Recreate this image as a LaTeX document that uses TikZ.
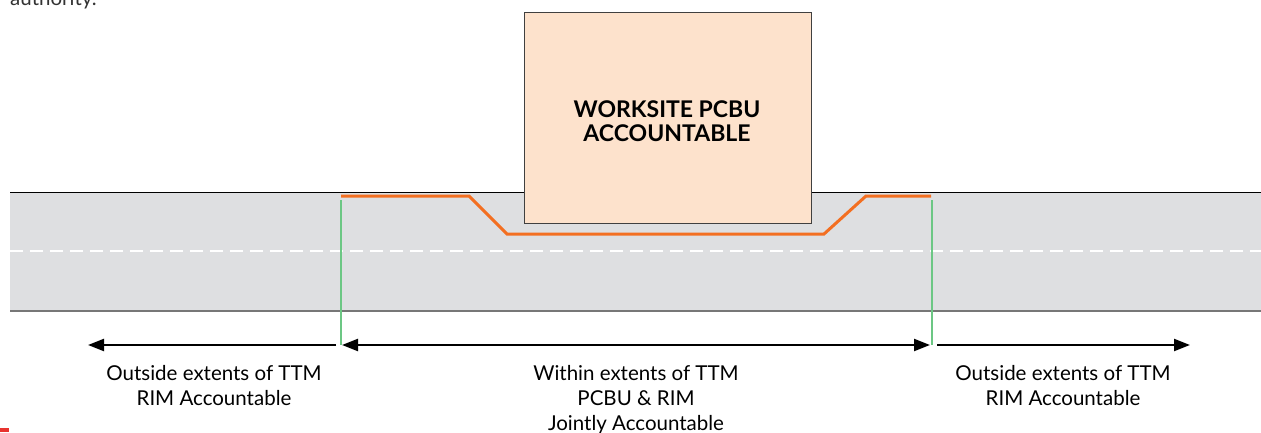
\documentclass[tikz,border=0pt]{standalone}
\usepackage{fontspec}
\setmainfont{Lato}
\usetikzlibrary{arrows.meta}
\definecolor{roadgray}{HTML}{DEDFE1}
\definecolor{edgegray}{HTML}{777777}
\definecolor{boxfill}{HTML}{FDE2CC}
\definecolor{tmorange}{HTML}{F36F21}
\definecolor{extgreen}{HTML}{6CC784}
\definecolor{markred}{HTML}{E8332F}
\tikzset{
  lbl/.style={font=\fontsize{20.5}{25}\selectfont, align=center, anchor=north, inner sep=0pt},
  dimarrow/.style={line width=2.2pt, -{Triangle[length=16pt,width=12pt]}},
  dimarrowboth/.style={line width=2.2pt, {Triangle[length=16pt,width=12pt]}-{Triangle[length=16pt,width=12pt]}},
  extline/.style={extgreen, line width=1.2pt},
}
\begin{document}
\begin{tikzpicture}[x=1pt,y=-1pt]
\useasboundingbox (0,0) rectangle (1261,432);
\begin{scope}
\clip (0,0) rectangle (1261,432);
\node[anchor=base west, inner sep=0pt, font=\fontsize{20.5}{25}\selectfont, text=black!80] (auth) at (10,5) {authority.};
\end{scope}
% road
\fill[roadgray] (10,192) rectangle (1261,311);
\draw[black, line width=1pt] (10,192) -- (1261,192);
\draw[edgegray, line width=1.8pt] (10,311) -- (1261,311);
\draw[white, line width=2.6pt, dash pattern=on 13pt off 7pt] (10,251) -- (1261,251);
% worksite box
\node[draw=black!75, line width=1pt, fill=boxfill, minimum width=287pt, minimum height=211pt, anchor=north west, inner sep=0pt] (box) at (524,12) {};
\node[font=\fontsize{23}{24}\selectfont\bfseries, align=center] (boxtxt) at (667,121) {WORKSITE PCBU\\ACCOUNTABLE};
% TTM orange line
\coordinate (tA) at (341,196);
\coordinate (tB) at (931,196);
\draw[tmorange, line width=3pt] (tA) -- (469,196) -- (507,234) -- (824,234) -- (866,196) -- (tB);
% extent lines
\coordinate (gA) at (341,345);
\coordinate (gB) at (932,345);
\draw[extline] (341,200) -- (gA);
\draw[extline] (932,200) -- (gB);
% arrows
\coordinate (lEnd) at (88,345);
\coordinate (lStart) at (336,345);
\coordinate (mA) at (342,345);
\coordinate (mB) at (930,345);
\coordinate (rStart) at (937,345);
\coordinate (rEnd) at (1190,345);
\draw[dimarrow] (lStart) -- (lEnd);
\draw[dimarrowboth] (mA) -- (mB);
\draw[dimarrow] (rStart) -- (rEnd);
% labels
\node[lbl] (lt) at (214,365) {Outside extents of TTM\\RIM Accountable};
\node[lbl] (mt) at (636,365) {Within extents of TTM\\PCBU \& RIM\\Jointly Accountable};
\node[lbl] (rt) at (1063,365) {Outside extents of TTM\\RIM Accountable};
% red mark
\fill[markred] (0,428) rectangle (9,432);
\end{tikzpicture}
\end{document}
